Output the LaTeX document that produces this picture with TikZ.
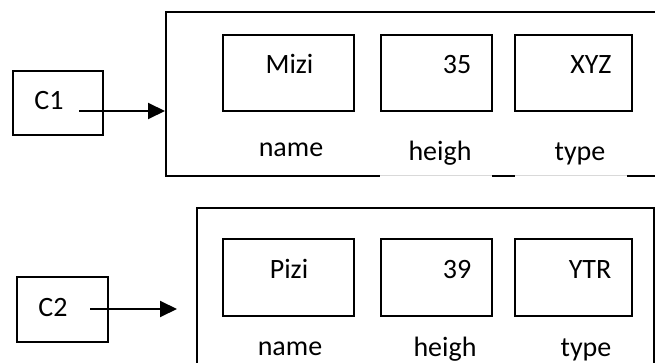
\documentclass[tikz,border=0pt]{standalone}
\usepackage{fontspec}
\setmainfont{Carlito}
\usetikzlibrary{arrows.meta}
\tikzset{
  box/.style={draw, line width=2pt, rectangle, inner sep=0pt},
  lbl/.style={inner sep=0pt, anchor=base, font=\fontsize{28}{30}\selectfont},
  link/.style={line width=2pt, -{Triangle[length=17pt,width=16pt]}},
}
\begin{document}
\begin{tikzpicture}[x=1pt, y=-1pt]
\clip (0,0) rectangle (655,363);
\fill[white] (0,0) rectangle (655,363);

% ---- object C1 ----
\node[box, minimum width=90pt, minimum height=64pt] (c1) at (58,103) {};
\node[lbl] (c1t) at (49,110) {C1};
\node[box, minimum width=500pt, minimum height=164pt, anchor=north west] (obj1) at (165,11) {};
% bottom edge of the object, partly hidden behind the field captions
\fill[white] (380,172) rectangle (492,177);
\fill[white] (515,172) rectangle (627,177);
\draw[gray!30, line width=0.8pt] (380,175) -- (492,175) (515,175) -- (627,175);
\coordinate (s1) at (79,111);
\draw[link] (s1) -- (s1 -| obj1.west);

\node[box, minimum width=131pt, minimum height=76pt] (f11) at (288.5,73) {};
\node[box, minimum width=111pt, minimum height=76pt] (f12) at (436.5,73) {};
\node[box, minimum width=117pt, minimum height=76pt] (f13) at (573.5,73) {};
\node[lbl] (v11) at (289.5,74) {Mizi};
\node[lbl] (v12) at (457,74) {35};
\node[lbl] (v13) at (591,74) {XYZ};
\node[lbl] (n11) at (291,157) {name};
\node[lbl] (n12) at (440,161) {heigh};
\node[lbl] (n13) at (580,161) {type};

% ---- object C2 ----
\node[box, minimum width=91pt, minimum height=65pt] (c2) at (62.5,309.5) {};
\node[lbl] (c2t) at (53,316) {C2};
\node[box, minimum width=457pt, minimum height=200pt, anchor=north west] (obj2) at (196,207) {};
\coordinate (s2) at (90,309);
\coordinate (e2) at (177,309);
\draw[link] (s2) -- (e2);

\node[box, minimum width=131pt, minimum height=77pt] (f21) at (288.5,277.5) {};
\node[box, minimum width=111pt, minimum height=77pt] (f22) at (436.5,277.5) {};
\node[box, minimum width=117pt, minimum height=77pt] (f23) at (573.5,277.5) {};
\node[lbl] (v21) at (289,278) {Pizi};
\node[lbl] (v22) at (457,278) {39};
\node[lbl] (v23) at (590,278) {YTR};
\node[lbl] (n21) at (290,355) {name};
\node[lbl] (n22) at (445,356) {heigh};
\node[lbl] (n23) at (586,356) {type};
\end{tikzpicture}
\end{document}
